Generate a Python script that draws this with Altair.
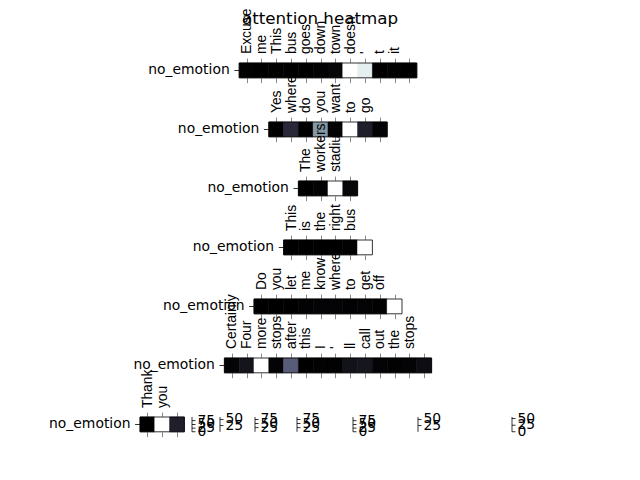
import json
import altair as alt
import pandas as pd

EMOTION = "no_emotion"

row_tokens = [
    ["Excuse", "me", "This", "bus", "goes", "down", "town", "doesn", "'", "t", "it", ""],
    ["Yes", "where", "do", "you", "want", "to", "go", ""],
    ["The", "workers", "stadium", ""],
    ["This", "is", "the", "right", "bus", ""],
    ["Do", "you", "let", "me", "know", "where", "to", "get", "off", ""],
    ["Certainly", "Four", "more", "stops", "after", "this", "I", "'", "ll", "call", "out", "the", "stops", ""],
    ["Thank", "you", ""],
]

row_values = [
    [0.01, 0.0, 0.0, 0.0, 0.0, 0.01, 0.03, 1.0, 0.93, 0.0, 0.01, 0.0],
    [0.0, 0.18, 0.0, 0.6, 0.02, 1.0, 0.14, 0.02],
    [0.0, 0.02, 1.0, 0.03],
    [0.0, 0.0, 0.0, 0.0, 0.01, 1.0],
    [0.0, 0.0, 0.0, 0.01, 0.02, 0.02, 0.01, 0.02, 0.01, 1.0],
    [0.02, 0.09, 1.0, 0.02, 0.4, 0.0, 0.01, 0.01, 0.08, 0.1, 0.02, 0.01, 0.02, 0.06],
    [0.0, 1.0, 0.14],
]

# squeezed colorbars drawn beside the last row: tick values and value range of each
cb_ticks = [
    [0, 0.25, 0.5, 0.75],
    [0.25, 0.5],
    [0.25, 0.5, 0.75],
    [0.25, 0.5, 0.75],
    [0, 0.25, 0.5, 0.75],
    [0.25, 0.5],
    [0, 0.25, 0.5],
]
cb_ranges = [[0, 1], [0, 0.6], [0, 0.9], [0, 0.9], [0, 1], [0, 0.6], [0, 0.56]]

# ---- layout (pixels) ----
CELL = 14.8
FONT = "DejaVu Sans"
FS = 13.9
PLOT_LEFT = 140          # left edge of the shared plot strip (= last row's left edge)
PLOT_W = 380
ROW_CENTER = 328         # rows 1-6 are centred on this x
CB_PX = [192, 220, 255, 297, 353, 418, 512]   # colorbar outline x positions

row_left = [ROW_CENTER - len(t) * CELL / 2 for t in row_tokens[:6]] + [PLOT_LEFT]

bone_scale = alt.Scale(domain=[0, 0.365, 0.746, 1],
                       range=["#000000", "#515171", "#a6c6c6", "#ffffff"],
                       interpolate="rgb")

NO_FRAME = alt.ViewBackground(stroke="transparent", strokeWidth=0)


def row_chart(tokens, vals, left, with_cb=False):
    n = len(tokens)
    lo = -(left - PLOT_LEFT) / CELL
    hi = lo + PLOT_W / CELL
    xs = alt.Scale(domain=[lo, hi], nice=False, zero=False)
    idx = list(range(n))
    df = pd.DataFrame({"x0": idx, "x1": [i + 1 for i in idx], "value": vals,
                       "emotion": [EMOTION] * n})
    frame_df = pd.DataFrame({"x0": [0], "x1": [n], "emotion": [EMOTION], "label": [EMOTION]})
    tick_vals = [i + 0.5 for i in idx]
    labels_js = "[" + ",".join(json.dumps(t) for t in tokens) + "]"

    cells = alt.Chart(df).mark_rect(strokeWidth=0.6).encode(
        x=alt.X("x0:Q", scale=xs, axis=alt.Axis(
            orient="bottom", values=tick_vals, labels=False, domain=False, grid=False,
            title=None, tickSize=4.9)),
        x2="x1",
        y=alt.Y("emotion:N", axis=None),
        color=alt.Color("value:Q", scale=bone_scale, legend=None),
        stroke=alt.Stroke("value:Q", scale=bone_scale, legend=None),
    )
    frame = alt.Chart(frame_df).mark_rect(filled=False, stroke="black", strokeWidth=0.8).encode(
        x=alt.X("x0:Q", scale=xs, axis=alt.Axis(
            orient="top", values=tick_vals, labelAngle=-90, domain=False, grid=False,
            title=None, tickSize=4.9, labelPadding=4.5, labelFontSize=FS,
            labelFlush=False, labelOverlap=False, labelBound=False, labelLimit=500,
            labelExpr=f"{labels_js}[floor(datum.value)]")),
        x2="x1",
        y=alt.Y("emotion:N", axis=None),
    )
    ylab = alt.Chart(frame_df).mark_text(
        align="right", baseline="middle", dx=-9.5, font=FONT, fontSize=FS, color="black"
    ).encode(x=alt.X("x0:Q", axis=None), y=alt.Y("emotion:N", axis=None), text="label:N")
    ytick = alt.Chart(frame_df).mark_tick(
        orient="horizontal", size=4.9, thickness=0.8, xOffset=-2.45, color="black", opacity=1
    ).encode(x=alt.X("x0:Q", axis=None), y=alt.Y("emotion:N", axis=None))

    base = alt.layer(cells, frame, ylab, ytick).resolve_axis(x="independent")
    if not with_cb:
        return base.properties(width=PLOT_W, height=CELL, view=NO_FRAME)

    line_rows, tick_rows = [], []
    for k, (ticks, (d0, d1), px) in enumerate(zip(cb_ticks, cb_ranges, CB_PX)):
        cx = (px - PLOT_LEFT) / CELL
        line_rows.append({"cb": k, "cx": cx, "y0": 0.0, "y1": 1.0})
        for v in ticks:
            lab = "0" if v == 0 else str(int(round(v * 100)))
            tick_rows.append({"cb": k, "cx": cx, "pos": (v - d0) / (d1 - d0), "lab": lab})
    ld = pd.DataFrame(line_rows)
    td = pd.DataFrame(tick_rows)
    ys = alt.Scale(domain=[0, 1], nice=False, zero=False)
    cb_line = alt.Chart(ld).mark_rule(color="black", strokeWidth=0.8).encode(
        x=alt.X("cx:Q", axis=None), y=alt.Y("y0:Q", scale=ys, axis=None), y2="y1")
    cb_tick = alt.Chart(td).mark_tick(
        orient="horizontal", size=3.5, thickness=0.8, xOffset=1.75, color="black", opacity=1
    ).encode(x=alt.X("cx:Q", axis=None), y=alt.Y("pos:Q", scale=ys, axis=None))
    cb_text = alt.Chart(td).mark_text(
        align="left", baseline="middle", dx=5.5, font=FONT, fontSize=FS, color="black"
    ).encode(x=alt.X("cx:Q", axis=None), y=alt.Y("pos:Q", scale=ys, axis=None), text="lab:N")
    return alt.layer(base, cb_line, cb_tick, cb_text).resolve_scale(y="independent").properties(
        width=PLOT_W, height=CELL, view=NO_FRAME)


rows = [row_chart(t, v, l, with_cb=(i == 6))
        for i, (t, v, l) in enumerate(zip(row_tokens, row_values, row_left))]

chart = alt.vconcat(*rows, spacing=44, bounds="flush").properties(
    title=alt.TitleParams("attention heatmap", font=FONT, fontSize=16.7, fontWeight="normal",
                          anchor="middle", frame="group", offset=-20, dx=-10, color="black"),
    padding={"left": 41, "top": 0, "right": 5, "bottom": 5},
).configure_axis(
    labelFont=FONT, labelColor="black", tickColor="black", domainColor="black",
    tickWidth=0.8, domainWidth=0.8,
).configure_view(stroke="transparent", strokeWidth=0).configure(background="white")

chart.save("out.html", embed_options={"renderer": "svg", "actions": False})
